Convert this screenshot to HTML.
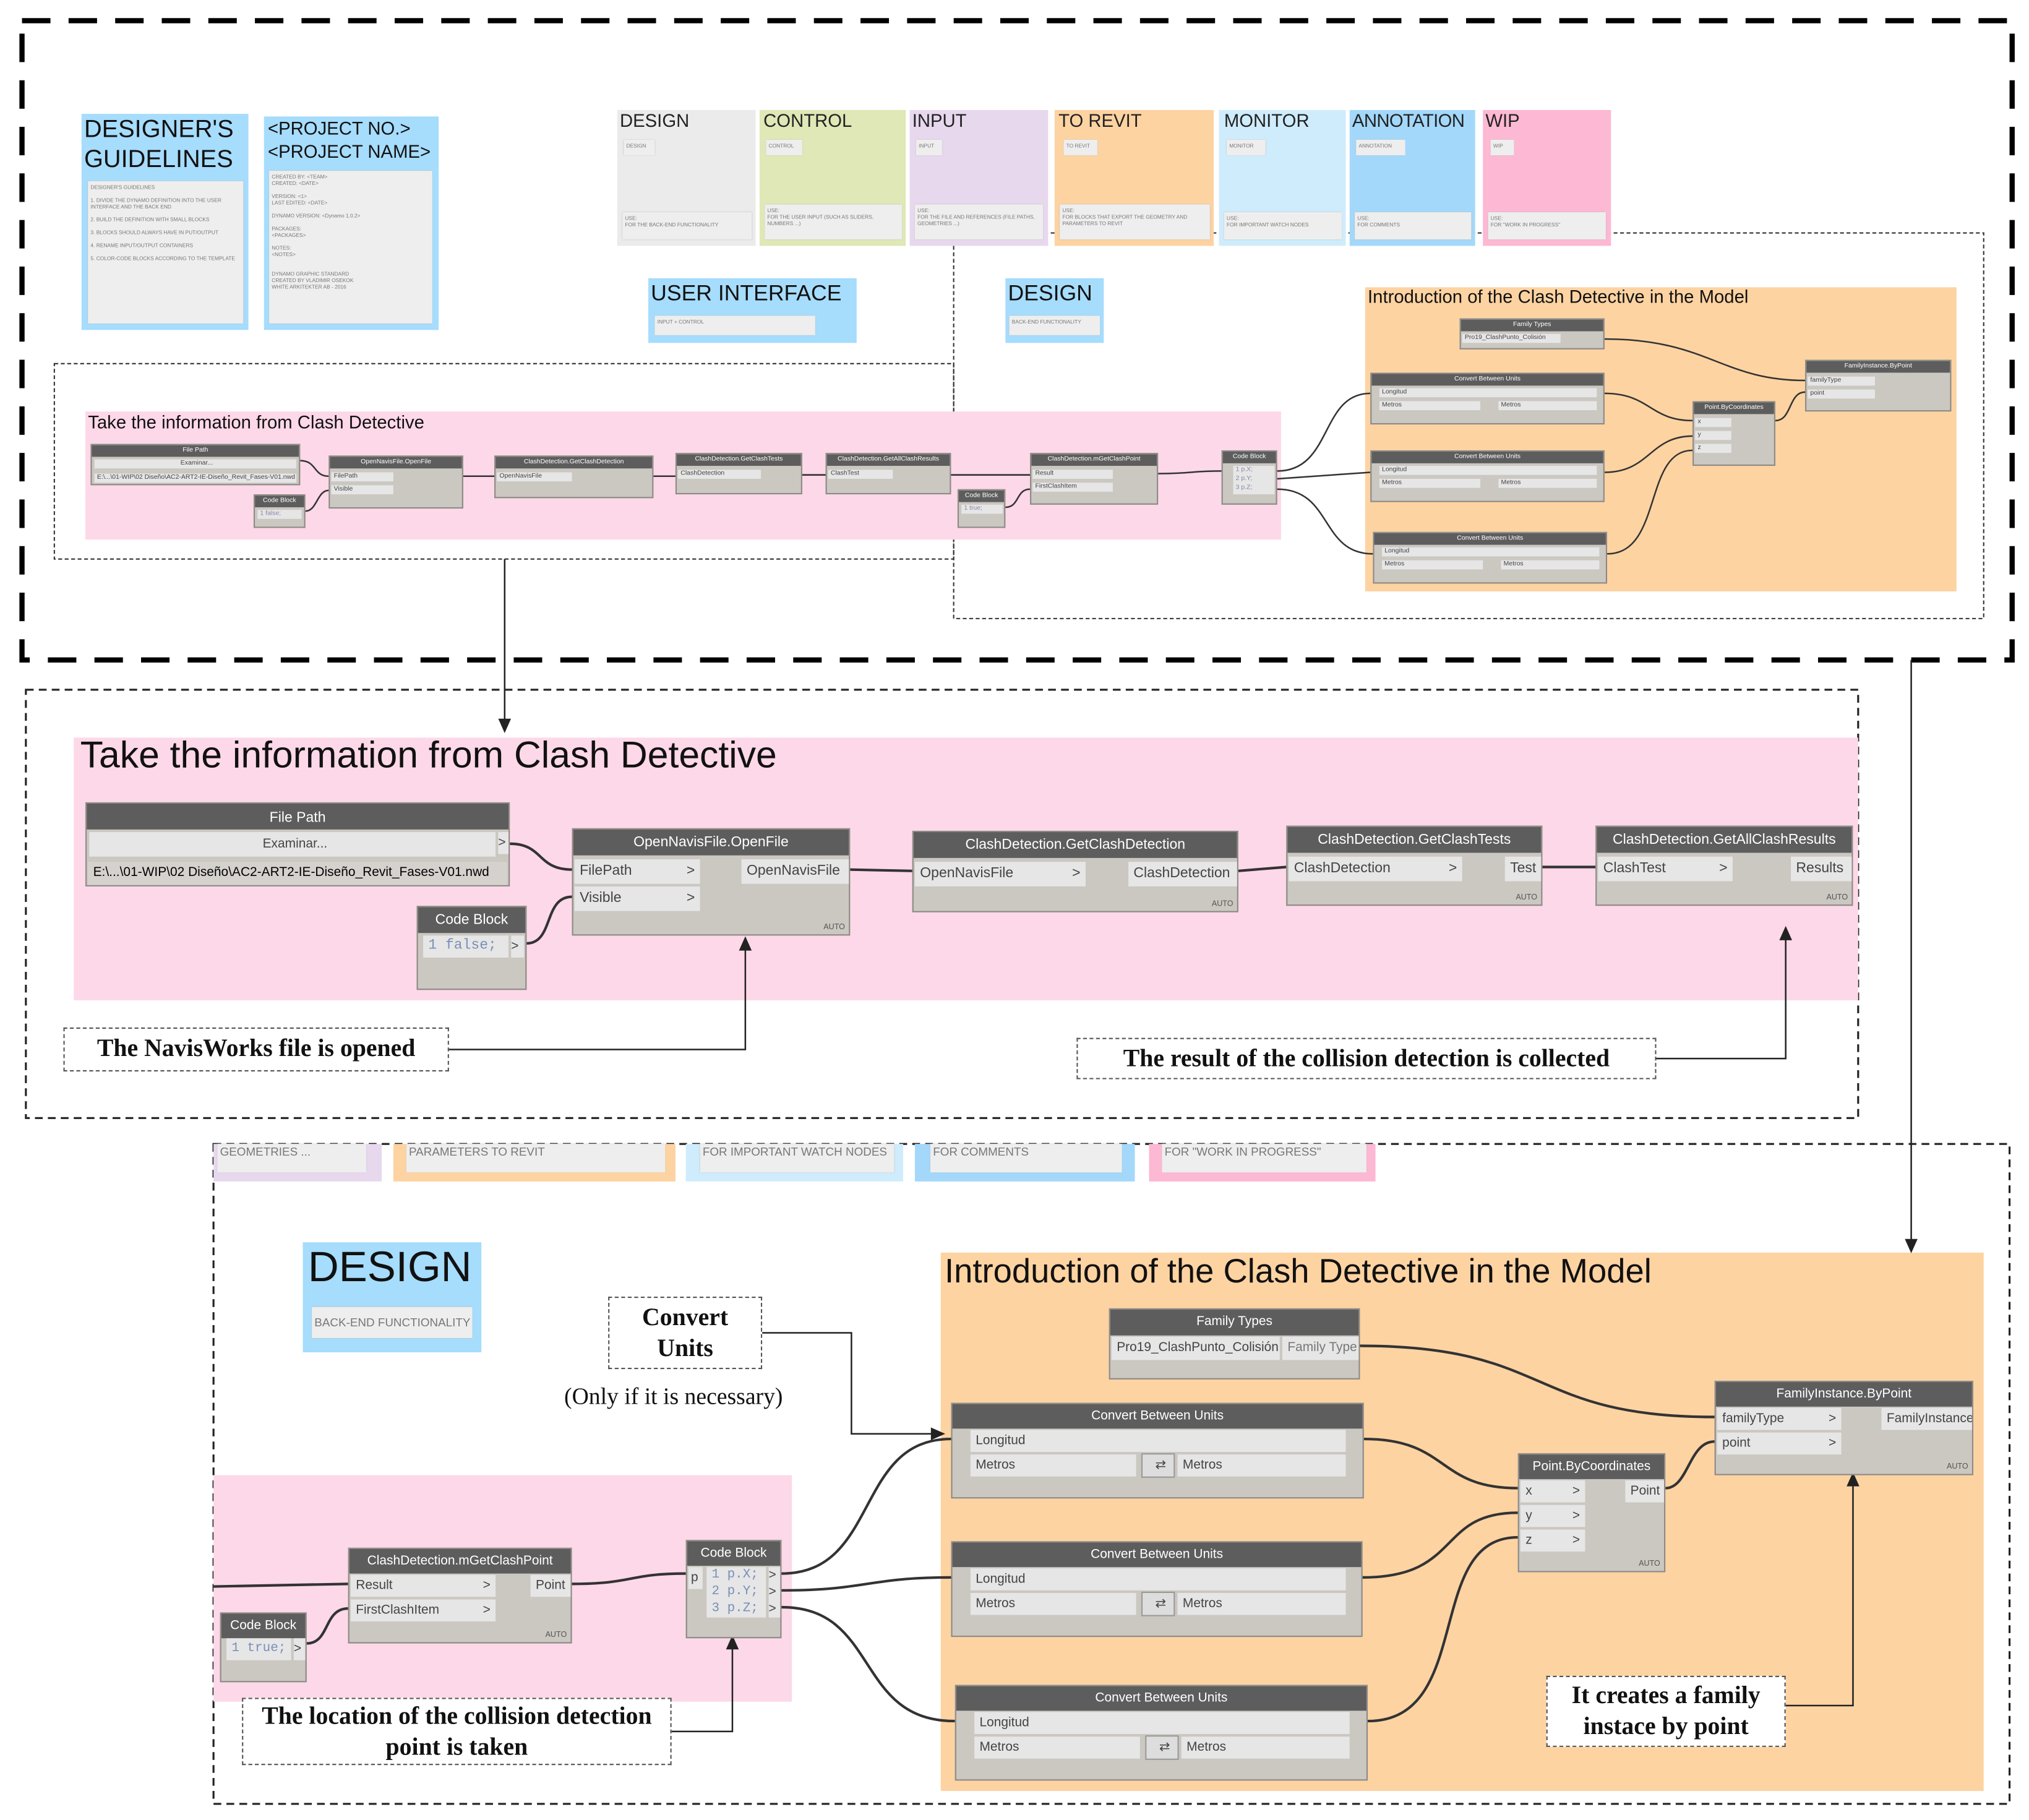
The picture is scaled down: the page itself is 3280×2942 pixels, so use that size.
<!DOCTYPE html>
<html><head><meta charset="utf-8"><style>
*{margin:0;padding:0;box-sizing:border-box}
body{width:3280px;height:2942px;background:#fff;overflow:hidden;font-family:"Liberation Sans",sans-serif}
#c{position:absolute;left:0;top:0;width:1568px;height:1406px;transform:scale(2.0918);transform-origin:0 0}
.a{position:absolute}
.g{position:absolute}
.n{position:absolute;background:#cbc7c1;border:1px solid #8d8a86;color:#666;font-size:10px;overflow:hidden}
.n .h{background:#5d5d5d;color:#fff;text-align:center;font-size:10px;height:19px;line-height:19px;white-space:nowrap;overflow:hidden}
.r{position:absolute;background:#e6e6e6;font-size:10px;line-height:17px;height:17px;padding-left:4px;white-space:nowrap;overflow:hidden;color:#444}
.au{position:absolute;right:3px;bottom:2px;font-size:6px;color:#555}
.lb{position:absolute;border:1px dashed #555;background:#fff;font-family:"Liberation Serif",serif;font-weight:bold;font-size:19px;text-align:center;color:#111}
.m .h{font-size:5px;height:9px;line-height:9px}
.m .r{font-size:5px;height:7px;line-height:7px;padding-left:2px}
.leg{position:absolute;font-size:14px;color:#222}
.w{position:absolute;background:#eee;box-shadow:0 0 1px #bbb;font-size:4px;color:#777;padding:2px;line-height:5px}
</style></head><body><div id="c">

<svg class="a" style="left:0;top:0" width="1568" height="1406">
<rect x="17" y="16" width="1538" height="494" fill="none" stroke="#000" stroke-width="4" stroke-dasharray="22,14"/>
<rect x="42" y="281" width="695" height="151" fill="none" stroke="#333" stroke-width="1" stroke-dasharray="3,2"/>
<polyline points="737,180 1533,180 1533,478 737,478 737,180" fill="none" stroke="#333" stroke-width="1" stroke-dasharray="3,2"/>
<rect x="20" y="533" width="1416" height="331" fill="none" stroke="#222" stroke-width="1.5" stroke-dasharray="6,4"/>
<rect x="165" y="884" width="1388" height="510" fill="none" stroke="#222" stroke-width="1.5" stroke-dasharray="6,4"/>
</svg>

<div class="g" style="left:63px;top:88px;width:129px;height:167px;background:#a6dcfc"></div>
<div class="a" style="left:65px;top:89px;font-size:19px;line-height:23px;color:#111">DESIGNER'S<br>GUIDELINES</div>
<div class="w" style="left:68px;top:140px;width:120px;height:110px">DESIGNER'S GUIDELINES<br><br>1. DIVIDE THE DYNAMO DEFINITION INTO THE USER INTERFACE AND THE BACK END<br><br>2. BUILD THE DEFINITION WITH SMALL BLOCKS<br><br>3. BLOCKS SHOULD ALWAYS HAVE IN PUT/OUTPUT<br><br>4. RENAME INPUT/OUTPUT CONTAINERS<br><br>5. COLOR-CODE BLOCKS ACCORDING TO THE TEMPLATE</div>
<div class="g" style="left:204px;top:90px;width:135px;height:165px;background:#a6dcfc"></div>
<div class="a" style="left:207px;top:90px;font-size:14px;line-height:18px;color:#111">&lt;PROJECT NO.&gt;<br>&lt;PROJECT NAME&gt;</div>
<div class="w" style="left:208px;top:132px;width:126px;height:118px">CREATED BY: &lt;TEAM&gt;<br>CREATED: &lt;DATE&gt;<br><br>VERSION: &lt;1&gt;<br>LAST EDITED: &lt;DATE&gt;<br><br>DYNAMO VERSION: &lt;Dynamo 1.0.2&gt;<br><br>PACKAGES:<br>&lt;PACKAGES&gt;<br><br>NOTES:<br>&lt;NOTES&gt;<br><br><br>DYNAMO GRAPHIC STANDARD<br>CREATED BY VLADIMIR OSEKOK<br>WHITE ARKITEKTER AB - 2016</div>

<div class="g" style="left:477px;top:85px;width:107px;height:105px;background:#ebebeb"></div>
<div class="g" style="left:587px;top:85px;width:113px;height:105px;background:#dfe8b6"></div>
<div class="g" style="left:703px;top:85px;width:107px;height:105px;background:#e7d8ee"></div>
<div class="g" style="left:815px;top:85px;width:123px;height:105px;background:#fdd3a2"></div>
<div class="g" style="left:942px;top:85px;width:98px;height:105px;background:#cfecfc"></div>
<div class="g" style="left:1043px;top:85px;width:97px;height:105px;background:#a3d8fa"></div>
<div class="g" style="left:1146px;top:85px;width:99px;height:105px;background:#fdb8d3"></div>
<div class="leg" style="left:479px;top:85px">DESIGN</div>
<div class="leg" style="left:590px;top:85px">CONTROL</div>
<div class="leg" style="left:705px;top:85px">INPUT</div>
<div class="leg" style="left:818px;top:85px">TO REVIT</div>
<div class="leg" style="left:946px;top:85px">MONITOR</div>
<div class="leg" style="left:1045px;top:85px;letter-spacing:-0.3px">ANNOTATION</div>
<div class="leg" style="left:1148px;top:85px">WIP</div>
<div class="w" style="left:482px;top:108px;width:24px;height:12px">DESIGN</div>
<div class="w" style="left:592px;top:108px;width:28px;height:12px">CONTROL</div>
<div class="w" style="left:708px;top:108px;width:20px;height:12px">INPUT</div>
<div class="w" style="left:822px;top:108px;width:26px;height:12px">TO REVIT</div>
<div class="w" style="left:948px;top:108px;width:30px;height:12px">MONITOR</div>
<div class="w" style="left:1048px;top:108px;width:38px;height:12px">ANNOTATION</div>
<div class="w" style="left:1152px;top:108px;width:18px;height:12px">WIP</div>
<div class="w" style="left:481px;top:164px;width:100px;height:21px">USE:<br>FOR THE BACK-END FUNCTIONALITY</div>
<div class="w" style="left:591px;top:158px;width:106px;height:27px">USE:<br>FOR THE USER INPUT (SUCH AS SLIDERS, NUMBERS ...)</div>
<div class="w" style="left:707px;top:158px;width:99px;height:27px">USE:<br>FOR THE FILE AND REFERENCES (FILE PATHS, GEOMETRIES ...)</div>
<div class="w" style="left:819px;top:158px;width:116px;height:27px">USE:<br>FOR BLOCKS THAT EXPORT THE GEOMETRY AND PARAMETERS TO REVIT</div>
<div class="w" style="left:946px;top:164px;width:91px;height:21px">USE:<br>FOR IMPORTANT WATCH NODES</div>
<div class="w" style="left:1047px;top:164px;width:90px;height:21px">USE:<br>FOR COMMENTS</div>
<div class="w" style="left:1150px;top:164px;width:91px;height:21px">USE:<br>FOR "WORK IN PROGRESS"</div>

<div class="g" style="left:501px;top:215px;width:161px;height:50px;background:#a6dcfc"></div>
<div class="a" style="left:503px;top:217px;font-size:17px;color:#111">USER INTERFACE</div>
<div class="w" style="left:506px;top:244px;width:124px;height:15px">INPUT + CONTROL</div>
<div class="g" style="left:777px;top:215px;width:76px;height:50px;background:#a6dcfc"></div>
<div class="a" style="left:779px;top:217px;font-size:17px;color:#111">DESIGN</div>
<div class="w" style="left:780px;top:244px;width:70px;height:15px">BACK-END FUNCTIONALITY</div>

<div class="g" style="left:66px;top:318px;width:924px;height:99px;background:#fdd8e8"></div>
<div class="a" style="left:68px;top:318px;font-size:14px;color:#111">Take the information from Clash Detective</div>
<div class="g" style="left:1055px;top:222px;width:457px;height:235px;background:#fdd3a2"></div>
<div class="a" style="left:1057px;top:221px;font-size:14px;color:#111">Introduction of the Clash Detective in the Model</div>

<div class="g" style="left:57px;top:570px;width:1379px;height:203px;background:#fdd8e8"></div>
<div class="a" style="left:62px;top:568px;font-size:29px;color:#111">Take the information from Clash Detective</div>
<div class="g" style="left:165px;top:884px;width:130px;height:29px;background:#e7d8ee"></div>
<div class="g" style="left:304px;top:884px;width:218px;height:29px;background:#fdd3a2"></div>
<div class="g" style="left:530px;top:884px;width:168px;height:29px;background:#cfecfc"></div>
<div class="g" style="left:707px;top:884px;width:170px;height:29px;background:#a3d8fa"></div>
<div class="g" style="left:888px;top:884px;width:175px;height:29px;background:#fdb8d3"></div>
<div class="w" style="left:168px;top:884px;width:115px;height:22px;font-size:9px;line-height:9px">GEOMETRIES ...</div>
<div class="w" style="left:314px;top:884px;width:200px;height:22px;font-size:9px;line-height:9px">PARAMETERS TO REVIT</div>
<div class="w" style="left:541px;top:884px;width:150px;height:22px;font-size:9px;line-height:9px">FOR IMPORTANT WATCH NODES</div>
<div class="w" style="left:719px;top:884px;width:148px;height:22px;font-size:9px;line-height:9px">FOR COMMENTS</div>
<div class="w" style="left:898px;top:884px;width:158px;height:22px;font-size:9px;line-height:9px">FOR "WORK IN PROGRESS"</div>

<div class="g" style="left:234px;top:960px;width:138px;height:85px;background:#a6dcfc"></div>
<div class="a" style="left:238px;top:960px;font-size:33px;color:#111">DESIGN</div>
<div class="w" style="left:241px;top:1010px;width:124px;height:24px;font-size:9px;line-height:20px;text-align:center;padding:2px;white-space:nowrap">BACK-END FUNCTIONALITY</div>
<div class="g" style="left:727px;top:968px;width:806px;height:416px;background:#fdd3a2"></div>
<div class="a" style="left:730px;top:967px;font-size:26px;color:#111">Introduction of the Clash Detective in the Model</div>
<div class="g" style="left:165px;top:1140px;width:447px;height:175px;background:#fdd8e8"></div>

<svg class="a" style="left:0;top:0" width="1568" height="1406" fill="none" stroke="#333" stroke-width="2">
<g stroke-width="1.2">
<path d="M232,356 C245,356 242,368 254,368"/><path d="M236,395 C245,395 245,379 254,379"/>
<path d="M358,368 L382,368"/><path d="M505,368 L522,368"/><path d="M620,367 L638,367"/>
<path d="M735,367 L796,367"/><path d="M777,392 C788,392 785,378 796,378"/>
<path d="M895,366 C920,366 920,364 944,364"/>
<path d="M987,364 C1030,364 1020,304 1059,304"/><path d="M987,370 L1059,365"/><path d="M987,378 C1030,378 1020,428 1061,428"/>
<path d="M1240,304 C1275,304 1275,325 1308,325"/><path d="M1240,365 C1275,365 1275,337 1308,337"/><path d="M1242,428 C1285,428 1270,348 1308,348"/>
<path d="M1240,262 C1320,262 1330,294 1395,294"/><path d="M1372,325 C1385,325 1382,303 1395,303"/>
</g>
<path d="M394,652 C420,652 415,672 442,672"/>
<path d="M407,729 C428,729 420,693 442,693"/>
<path d="M657,672 L705,673"/>
<path d="M957,673 L994,670"/>
<path d="M1192,670 L1233,670"/>
<path d="M165,1226 L269,1224"/>
<path d="M237,1270 C255,1270 250,1243 269,1243"/>
<path d="M442,1224 C490,1224 485,1216 530,1216"/>
<path d="M604,1216 C680,1216 660,1112 735,1112"/>
<path d="M604,1229 C670,1229 670,1219 735,1219"/>
<path d="M604,1242 C680,1242 660,1330 738,1330"/>
<path d="M1054,1112 C1120,1112 1110,1150 1173,1150"/>
<path d="M1053,1219 C1130,1219 1110,1169 1173,1169"/>
<path d="M1057,1330 C1140,1330 1100,1188 1173,1188"/>
<path d="M1051,1040 C1200,1040 1180,1095 1325,1095"/>
<path d="M1287,1150 C1305,1150 1305,1114 1325,1114"/>
<g stroke-width="1.2" stroke="#222">
<path d="M390,432 L390,560"/><path d="M386,556 L390,565 L394,556 Z" fill="#222"/>
<path d="M1477,510 L1477,962"/><path d="M1473,958 L1477,967 L1481,958 Z" fill="#222"/>
<path d="M347,811 L576,811 L576,732"/><path d="M572,734 L576,725 L580,734 Z" fill="#222"/>
<path d="M1280,818 L1380,818 L1380,724"/><path d="M1376,726 L1380,717 L1384,726 Z" fill="#222"/>
<path d="M589,1030 L658,1030 L658,1108 L722,1108"/><path d="M720,1104 L729,1108 L720,1112 Z" fill="#222"/>
<path d="M519,1338 L566,1338 L566,1272"/><path d="M562,1274 L566,1265 L570,1274 Z" fill="#222"/>
<path d="M1380,1318 L1432,1318 L1432,1146"/><path d="M1428,1148 L1432,1139 L1436,1148 Z" fill="#222"/>
</g>
</svg>

<div class="n m" style="left:70px;top:343px;width:162px;height:32px"><div class="h">File Path</div><div class="r" style="left:2px;top:11px;width:156px;text-align:center">Examinar...</div><div class="r" style="left:2px;top:22px;width:156px">E:\...\01-WIP\02 Diseño\AC2-ART2-IE-Diseño_Revit_Fases-V01.nwd</div></div>
<div class="n m" style="left:196px;top:382px;width:40px;height:26px"><div class="h">Code Block</div><div class="r" style="left:2px;top:11px;width:34px;color:#88a">1 false;</div></div>
<div class="n m" style="left:254px;top:352px;width:104px;height:41px"><div class="h">OpenNavisFile.OpenFile</div><div class="r" style="left:1px;top:12px;width:48px">FilePath</div><div class="r" style="left:1px;top:22px;width:48px">Visible</div></div>
<div class="n m" style="left:382px;top:352px;width:123px;height:33px"><div class="h">ClashDetection.GetClashDetection</div><div class="r" style="left:1px;top:12px;width:58px">OpenNavisFile</div></div>
<div class="n m" style="left:522px;top:350px;width:98px;height:32px"><div class="h">ClashDetection.GetClashTests</div><div class="r" style="left:1px;top:12px;width:64px">ClashDetection</div></div>
<div class="n m" style="left:638px;top:350px;width:97px;height:32px"><div class="h">ClashDetection.GetAllClashResults</div><div class="r" style="left:1px;top:12px;width:50px">ClashTest</div></div>
<div class="n m" style="left:740px;top:378px;width:37px;height:30px"><div class="h">Code Block</div><div class="r" style="left:2px;top:11px;width:32px;color:#88a">1 true;</div></div>
<div class="n m" style="left:796px;top:350px;width:99px;height:40px"><div class="h">ClashDetection.mGetClashPoint</div><div class="r" style="left:1px;top:12px;width:62px">Result</div><div class="r" style="left:1px;top:22px;width:62px">FirstClashItem</div></div>
<div class="n m" style="left:944px;top:348px;width:43px;height:42px"><div class="h">Code Block</div><div class="r" style="left:8px;top:11px;width:32px;height:22px;color:#88a">1 p.X;<br>2 p.Y;<br>3 p.Z;</div></div>
<div class="n m" style="left:1128px;top:246px;width:112px;height:24px"><div class="h">Family Types</div><div class="r" style="left:1px;top:11px;width:76px">Pro19_ClashPunto_Colisión</div></div>
<div class="n m" style="left:1059px;top:288px;width:181px;height:40px"><div class="h">Convert Between Units</div><div class="r" style="left:6px;top:11px;width:168px">Longitud</div><div class="r" style="left:6px;top:21px;width:78px">Metros</div><div class="r" style="left:98px;top:21px;width:76px">Metros</div></div>
<div class="n m" style="left:1059px;top:348px;width:181px;height:40px"><div class="h">Convert Between Units</div><div class="r" style="left:6px;top:11px;width:168px">Longitud</div><div class="r" style="left:6px;top:21px;width:78px">Metros</div><div class="r" style="left:98px;top:21px;width:76px">Metros</div></div>
<div class="n m" style="left:1061px;top:411px;width:181px;height:40px"><div class="h">Convert Between Units</div><div class="r" style="left:6px;top:11px;width:168px">Longitud</div><div class="r" style="left:6px;top:21px;width:78px">Metros</div><div class="r" style="left:98px;top:21px;width:76px">Metros</div></div>
<div class="n m" style="left:1308px;top:310px;width:64px;height:50px"><div class="h">Point.ByCoordinates</div><div class="r" style="left:1px;top:12px;width:28px">x</div><div class="r" style="left:1px;top:22px;width:28px">y</div><div class="r" style="left:1px;top:32px;width:28px">z</div></div>
<div class="n m" style="left:1395px;top:278px;width:113px;height:40px"><div class="h">FamilyInstance.ByPoint</div><div class="r" style="left:1px;top:12px;width:52px">familyType</div><div class="r" style="left:1px;top:22px;width:52px">point</div></div>

<div class="n" style="left:66px;top:620px;width:328px;height:65px"><div class="h" style="height:20px;line-height:22px;font-size:11px">File Path</div>
<div class="r" style="left:2px;top:22px;width:314px;text-align:center;height:19px;line-height:19px">Examinar...</div><div class="r" style="left:318px;top:22px;width:9px;padding:0">&gt;</div>
<div class="r" style="left:1px;top:45px;width:324px;height:18px;font-size:10px;color:#000;background:#d5d2cd">E:\...\01-WIP\02 Diseño\AC2-ART2-IE-Diseño_Revit_Fases-V01.nwd</div></div>
<div class="n" style="left:322px;top:700px;width:85px;height:65px"><div class="h" style="height:20px;line-height:20px;font-size:11px">Code Block</div>
<div class="r" style="left:4px;top:22px;width:66px;color:#7a8fb8;font-family:'Liberation Mono',monospace;font-size:11px">1 false;</div><div class="r" style="left:72px;top:22px;width:10px;padding:0">&gt;</div></div>
<div class="n" style="left:442px;top:640px;width:215px;height:83px"><div class="h" style="height:20px;line-height:20px;font-size:11px">OpenNavisFile.OpenFile</div>
<div class="r" style="left:1px;top:23px;width:97px;height:19px;line-height:19px;font-size:11px">FilePath<span style="float:right;padding-right:4px">&gt;</span></div>
<div class="r" style="left:1px;top:44px;width:97px;height:19px;line-height:19px;font-size:11px">Visible<span style="float:right;padding-right:4px">&gt;</span></div>
<div class="r" style="left:130px;top:23px;width:84px;height:19px;line-height:19px;font-size:11px">OpenNavisFile</div><div class="au">AUTO</div></div>
<div class="n" style="left:705px;top:642px;width:252px;height:63px"><div class="h" style="height:20px;line-height:20px;font-size:11px">ClashDetection.GetClashDetection</div>
<div class="r" style="left:1px;top:23px;width:132px;height:19px;line-height:19px;font-size:11px">OpenNavisFile<span style="float:right;padding-right:4px">&gt;</span></div>
<div class="r" style="left:166px;top:23px;width:85px;height:19px;line-height:19px;font-size:11px">ClashDetection</div><div class="au">AUTO</div></div>
<div class="n" style="left:994px;top:638px;width:198px;height:62px"><div class="h" style="height:20px;line-height:20px;font-size:11px">ClashDetection.GetClashTests</div>
<div class="r" style="left:1px;top:23px;width:134px;height:19px;line-height:19px;font-size:11px">ClashDetection<span style="float:right;padding-right:4px">&gt;</span></div>
<div class="r" style="left:168px;top:23px;width:29px;height:19px;line-height:19px;font-size:11px">Test</div><div class="au">AUTO</div></div>
<div class="n" style="left:1233px;top:638px;width:199px;height:62px"><div class="h" style="height:20px;line-height:20px;font-size:11px">ClashDetection.GetAllClashResults</div>
<div class="r" style="left:1px;top:23px;width:104px;height:19px;line-height:19px;font-size:11px">ClashTest<span style="float:right;padding-right:4px">&gt;</span></div>
<div class="r" style="left:150px;top:23px;width:48px;height:19px;line-height:19px;font-size:11px">Results</div><div class="au">AUTO</div></div>

<div class="lb" style="left:49px;top:794px;width:298px;height:34px;line-height:32px">The NavisWorks file is opened</div>
<div class="lb" style="left:832px;top:802px;width:448px;height:32px;line-height:31px">The result of the collision detection is collected</div>

<div class="lb" style="left:470px;top:1002px;width:119px;height:56px;line-height:24px;padding-top:4px">Convert<br>Units</div>
<div class="a" style="left:436px;top:1069px;font-family:'Liberation Serif',serif;font-size:18px;color:#111">(Only if it is necessary)</div>
<div class="n" style="left:857px;top:1011px;width:194px;height:55px"><div class="h" style="height:20px;line-height:20px">Family Types</div>
<div class="r" style="left:1px;top:21px;width:130px;height:18px">Pro19_ClashPunto_Colisión &nbsp;˅</div><div class="r" style="left:133px;top:21px;width:60px;height:18px;color:#777">Family Type</div></div>
<div class="n" style="left:735px;top:1084px;width:319px;height:74px"><div class="h">Convert Between Units</div>
<div class="r" style="left:14px;top:20px;width:290px;height:17px">Longitud</div><div class="r" style="left:14px;top:39px;width:128px">Metros</div><div class="r" style="left:146px;top:38px;width:26px;height:19px;text-align:center;background:#ddd;border:1px solid #999">⇄</div><div class="r" style="left:174px;top:39px;width:130px">Metros</div></div>
<div class="n" style="left:735px;top:1191px;width:318px;height:74px"><div class="h">Convert Between Units</div>
<div class="r" style="left:14px;top:20px;width:290px;height:17px">Longitud</div><div class="r" style="left:14px;top:39px;width:128px">Metros</div><div class="r" style="left:146px;top:38px;width:26px;height:19px;text-align:center;background:#ddd;border:1px solid #999">⇄</div><div class="r" style="left:174px;top:39px;width:130px">Metros</div></div>
<div class="n" style="left:738px;top:1302px;width:319px;height:74px"><div class="h">Convert Between Units</div>
<div class="r" style="left:14px;top:20px;width:290px;height:17px">Longitud</div><div class="r" style="left:14px;top:39px;width:128px">Metros</div><div class="r" style="left:146px;top:38px;width:26px;height:19px;text-align:center;background:#ddd;border:1px solid #999">⇄</div><div class="r" style="left:174px;top:39px;width:130px">Metros</div></div>
<div class="n" style="left:1173px;top:1123px;width:114px;height:92px"><div class="h">Point.ByCoordinates</div>
<div class="r" style="left:1px;top:20px;width:50px">x<span style="float:right;padding-right:4px">&gt;</span></div><div class="r" style="left:1px;top:39px;width:50px">y<span style="float:right;padding-right:4px">&gt;</span></div><div class="r" style="left:1px;top:58px;width:50px">z<span style="float:right;padding-right:4px">&gt;</span></div>
<div class="r" style="left:82px;top:20px;width:31px">Point</div><div class="au">AUTO</div></div>
<div class="n" style="left:1325px;top:1067px;width:200px;height:73px"><div class="h">FamilyInstance.ByPoint</div>
<div class="r" style="left:1px;top:20px;width:96px">familyType<span style="float:right;padding-right:4px">&gt;</span></div><div class="r" style="left:1px;top:39px;width:96px">point<span style="float:right;padding-right:4px">&gt;</span></div>
<div class="r" style="left:128px;top:20px;width:71px">FamilyInstance</div><div class="au">AUTO</div></div>
<div class="n" style="left:269px;top:1196px;width:173px;height:74px"><div class="h">ClashDetection.mGetClashPoint</div>
<div class="r" style="left:1px;top:20px;width:112px">Result<span style="float:right;padding-right:4px">&gt;</span></div><div class="r" style="left:1px;top:39px;width:112px">FirstClashItem<span style="float:right;padding-right:4px">&gt;</span></div>
<div class="r" style="left:140px;top:20px;width:32px">Point</div><div class="au">AUTO</div></div>
<div class="n" style="left:170px;top:1246px;width:67px;height:54px"><div class="h">Code Block</div>
<div class="r" style="left:4px;top:19px;width:50px;color:#7a8fb8;font-family:'Liberation Mono',monospace">1 true;</div><div class="r" style="left:56px;top:19px;width:9px;padding:0">&gt;</div></div>
<div class="n" style="left:530px;top:1190px;width:74px;height:76px"><div class="h">Code Block</div>
<div class="r" style="left:1px;top:20px;width:11px;padding-left:2px">p</div>
<div class="r" style="left:15px;top:20px;width:46px;height:39px;line-height:13px;color:#7a8fb8;font-family:'Liberation Mono',monospace">1 p.X;<br>2 p.Y;<br>3 p.Z;</div>
<div class="r" style="left:63px;top:20px;width:9px;height:39px;line-height:13px;padding:0">&gt;<br>&gt;<br>&gt;</div></div>

<div class="lb" style="left:187px;top:1312px;width:332px;height:52px;line-height:24px;padding-top:2px">The location of the collision detection<br>point is taken</div>
<div class="lb" style="left:1195px;top:1295px;width:185px;height:55px;line-height:24px;padding-top:3px">It creates a family<br>instace by point</div>

</div></body></html>
